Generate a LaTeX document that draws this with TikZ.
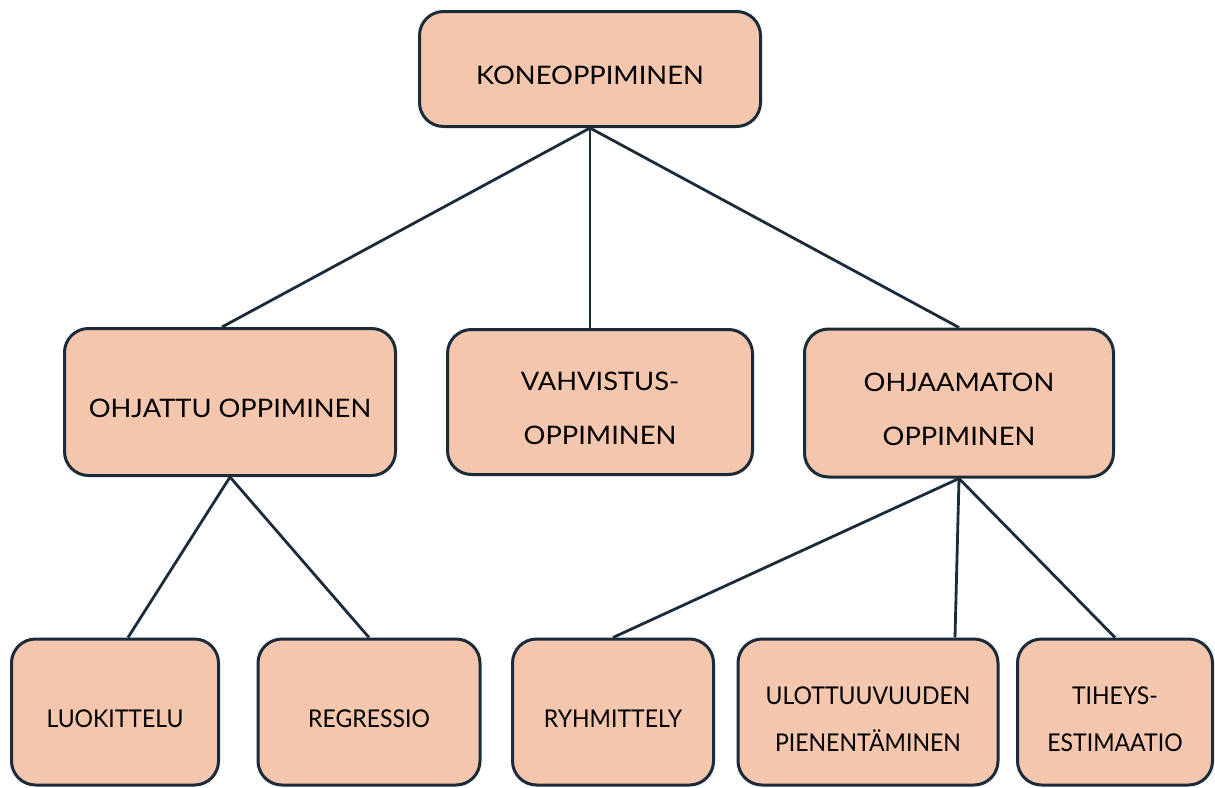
\documentclass[tikz,border=0pt]{standalone}
\usepackage{fontspec}
\setmainfont{Lato}[FakeStretch=1.07]
\newfontfamily\narrowfont[FakeStretch=0.94]{Lato}
\definecolor{peach}{HTML}{F4C6AD}
\definecolor{navy}{HTML}{1B2B3A}

\begin{document}
\begin{tikzpicture}[x=1pt,y=-1pt,
	box/.style={draw=navy,line width=3pt,fill=peach,rounded corners=24pt,align=center,inner sep=0pt,
		font=\fontsize{25.5}{54}\selectfont,execute at begin node={\rule{0pt}{31pt}}},
	leaf/.style={box,minimum height=146,font=\narrowfont\fontsize{24.5}{47}\selectfont,
		execute at begin node={\rule{0pt}{28pt}}},
	twobox/.style={box,execute at begin node={\rule{0pt}{86pt}}},
	twoleaf/.style={leaf,execute at begin node={\rule{0pt}{79pt}}},
	link/.style={draw=navy,line width=2.8pt}]
	
	\useasboundingbox (0,0) rectangle (1215,787);
	
	% top
	\node[box,minimum width=341,minimum height=115] (kone) at (590,69) {KONEOPPIMINEN};
	
	% second row
	\node[box,minimum width=331,minimum height=147] (ohjattu) at (230,402) {OHJATTU OPPIMINEN};
	\node[twobox,minimum width=305,minimum height=145] (vahvistus) at (600,402) {VAHVISTUS-\\OPPIMINEN};
	\node[twobox,minimum width=309,minimum height=148] (ohjaamaton) at (959,403) {OHJAAMATON\\OPPIMINEN};
	
	% third row
	\node[leaf,minimum width=207] (luokittelu) at (115,712) {LUOKITTELU};
	\node[leaf,minimum width=222] (regressio) at (369,712) {REGRESSIO};
	\node[leaf,minimum width=201] (ryhmittely) at (613,712) {RYHMITTELY};
	\node[twoleaf,minimum width=260] (ulottuvuus) at (868,712) {ULOTTUUVUUDEN\\PIENENTÄMINEN};
	\node[twoleaf,minimum width=195] (tiheys) at (1115,712) {TIHEYS-\\ESTIMAATIO};
	
	\draw[link] (kone.south) -- ([xshift=-8pt]ohjattu.north);
	\draw[link] (kone.south) -- ([xshift=-10pt]vahvistus.north);
	\draw[link] (kone.south) -- (ohjaamaton.north);
	
	\draw[link] (ohjattu.south) -- ([xshift=13pt]luokittelu.north);
	\draw[link] (ohjattu.south) -- (regressio.north);
	
	\draw[link] (ohjaamaton.south) -- (ryhmittely.north);
	\draw[link] (ohjaamaton.south) -- ([xshift=87pt]ulottuvuus.north);
	\draw[link] (ohjaamaton.south) -- (tiheys.north);
	
\end{tikzpicture}
\end{document}
